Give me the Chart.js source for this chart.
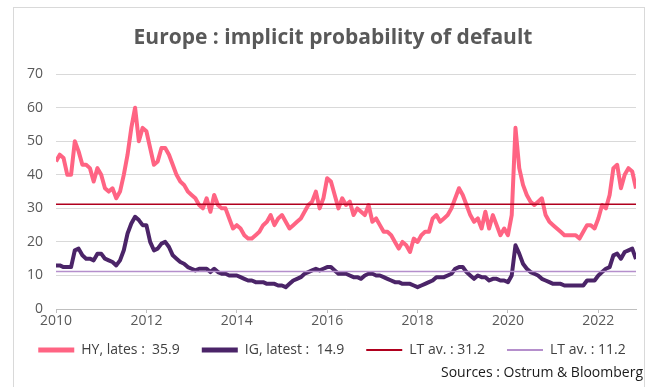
<!DOCTYPE html>
<html>
<head>
<meta charset="utf-8">
<script src="https://cdn.jsdelivr.net/npm/chart.js@4/dist/chart.umd.min.js"></script>
<style>
    html, body { margin: 0; padding: 0; background: #ffffff; }
    #wrap { position: relative; width: 656px; height: 387px; overflow: hidden; }
    #frame { position: absolute; left: 13px; top: 7px; width: 632px; height: 400px; border: 1px solid #d9d9d9; box-sizing: border-box; }
    #chart { position: absolute; left: 0; top: 0; }
    #source { position: absolute; right: 13px; top: 362px; font: 14px "Open Sans", sans-serif; color: #1a1a1a; white-space: pre; }
</style>
</head>
<body>
<div id="wrap">
    <div id="frame"></div>
    <canvas id="chart" width="656" height="387"></canvas>
    <div id="source">Sources : Ostrum &amp; Bloomberg</div>
</div>
<script>
// Monthly readings, Jan 2010 -> Nov 2022
const startYear = 2010;

const hyValues = [
    44, 46, 45, 40, 40, 50, 47, 43, 43, 42, 38, 42,   // 2010
    40, 36, 35, 36, 33, 35, 40, 46, 54, 60, 50, 54,   // 2011
    53, 48, 43, 44, 48, 48, 46, 43, 40, 38, 37, 35,   // 2012
    34, 33, 31, 30, 33, 29, 34, 31, 30, 30, 27, 24,   // 2013
    25, 24, 22, 21, 21, 22, 23, 25, 26, 28, 25, 27,   // 2014
    28, 26, 24, 25, 26, 27, 29, 31, 32, 35, 30, 33,   // 2015
    39, 38, 34, 30, 33, 31, 32, 28, 30, 29, 28, 31,   // 2016
    26, 27, 25, 23, 23, 22, 20, 18, 20, 19, 17, 21,   // 2017
    20, 22, 23, 23, 27, 28, 26, 27, 28, 30, 33, 36,   // 2018
    34, 31, 28, 26, 27, 24, 29, 24, 28, 25, 22, 24,   // 2019
    22, 28, 54, 42, 37, 34, 32, 31, 32, 33, 28, 26,   // 2020
    25, 24, 23, 22, 22, 22, 22, 21, 23, 25, 25, 24,   // 2021
    27, 31, 30, 34, 42, 43, 36, 40, 42, 41, 35.9      // 2022
];

const igValues = [
    13, 13, 12.5, 12.5, 12.5, 17.5, 18, 16, 15, 15, 14.5, 16.5,
    16.5, 15, 14.5, 14, 13, 14.5, 17.5, 22.5, 25.5, 27.5, 26.5, 25,
    25, 20, 17.5, 18, 19.5, 20, 18.5, 16, 15, 14, 13.5, 12.5,
    12, 11.5, 12, 12, 12, 11, 12, 11, 10.5, 10.5, 10, 10,
    10, 9.5, 9, 8.5, 8.5, 8, 8, 8, 7.5, 7.5, 7.5, 7,
    7, 6.5, 7.5, 8.5, 9, 9.5, 10.5, 11, 11.5, 12, 11.5, 12,
    12.5, 12.5, 11.5, 10.5, 10.5, 10.5, 10, 9.5, 9.5, 9, 10, 10.5,
    10.5, 10, 10, 9.5, 9, 8.5, 8, 8, 7.5, 7.5, 7.5, 7,
    6.5, 7, 7.5, 8, 8.5, 9.5, 9.5, 9.5, 10, 10.5, 12, 12.5,
    12.5, 11, 10, 9, 10, 9.5, 9.5, 8.5, 9, 9, 8.5, 8.5,
    8, 10, 19, 16.5, 13.5, 12, 11, 10.5, 10, 9, 8.5, 8,
    7.5, 7.5, 7.5, 7, 7, 7, 7, 7, 7, 8.5, 8.5, 8.5,
    10, 11, 12, 12.5, 16, 16.5, 15, 17, 17.5, 18, 14.9
];

const hyAverage = 31.2;
const igAverage = 11.2;

const yearTicks = [2010, 2012, 2014, 2016, 2018, 2020, 2022];
const seriesLabels = ["HY, lates :  35.9", "IG, latest :  14.9", "LT av. : 31.2", "LT av. : 11.2"];

const xEnd = startYear + (hyValues.length - 1) / 12;
const toPoints = (arr) => arr.map((v, i) => ({ x: startYear + i / 12, y: v }));
const flat = (v) => [{ x: startYear, y: v }, { x: xEnd, y: v }];

const tickFont = { family: "'Open Sans', sans-serif", size: 14 };

// nudge title and legend to where they sit in the original
const nudgeBoxes = {
    id: "nudgeBoxes",
    afterLayout(chart) {
        const t = chart.titleBlock;
        t.left += 15; t.right += 15;
        const lg = chart.legend;
        lg.left += 14; lg.right += 14;
        lg.top -= 10; lg.bottom -= 10;
    },
};

new Chart(document.getElementById("chart").getContext("2d"), {
    type: "line",
    data: {
        datasets: [
            {
                label: seriesLabels[0],
                data: toPoints(hyValues),
                borderColor: "#ff6483",
                borderWidth: 4,
                legendWidth: 5,
                order: 2,
            },
            {
                label: seriesLabels[1],
                data: toPoints(igValues),
                borderColor: "#4b2468",
                borderWidth: 4,
                legendWidth: 5,
                order: 2,
            },
            {
                label: seriesLabels[2],
                data: flat(hyAverage),
                borderColor: "#b0001e",
                borderWidth: 1.5,
                legendWidth: 2,
                order: 1,
            },
            {
                label: seriesLabels[3],
                data: flat(igAverage),
                borderColor: "#b58fcc",
                borderWidth: 1.5,
                legendWidth: 2,
                order: 1,
            },
        ],
    },
    plugins: [nudgeBoxes],
    options: {
        responsive: false,
        animation: false,
        events: [],
        elements: {
            point: { radius: 0 },
            line: { tension: 0, borderJoinStyle: "round" },
        },
        layout: { padding: { left: 0, right: 20, top: 20, bottom: 10 } },
        scales: {
            x: {
                type: "linear",
                min: startYear,
                max: xEnd,
                afterBuildTicks: (scale) => {
                    scale.ticks = yearTicks.map((v) => ({ value: v }));
                },
                afterFit: (scale) => { scale.height = 22; },
                ticks: {
                    color: "#595959",
                    font: tickFont,
                    padding: 0,
                    maxRotation: 0,
                    autoSkip: false,
                    callback: (v) => String(v),
                },
                grid: { drawOnChartArea: false, drawTicks: true, tickLength: 4, color: "#bfbfbf" },
                border: { display: true, color: "#bfbfbf", width: 1 },
            },
            y: {
                min: 0,
                max: 70,
                afterFit: (scale) => { scale.width = 56; },
                ticks: { stepSize: 10, color: "#595959", font: tickFont, padding: 13 },
                grid: { color: "#d9d9d9", drawTicks: false },
                border: { display: false },
            },
        },
        plugins: {
            tooltip: { enabled: false },
            title: {
                display: true,
                text: "Europe : implicit probability of default",
                color: "#595959",
                font: { family: "'Open Sans', sans-serif", size: 21, weight: "bold" },
                padding: { top: 5, bottom: 24 },
            },
            legend: {
                position: "bottom",
                labels: {
                    usePointStyle: true,
                    boxWidth: 36,
                    pointStyleWidth: 36,
                    boxHeight: 6,
                    padding: 22,
                    color: "#404040",
                    font: { family: "'Open Sans', sans-serif", size: 14 },
                    generateLabels: (chart) =>
                        chart.data.datasets.map((ds, i) => ({
                            text: ds.label,
                            datasetIndex: i,
                            pointStyle: "line",
                            strokeStyle: ds.borderColor,
                            fillStyle: ds.borderColor,
                            lineWidth: ds.legendWidth,
                            fontColor: "#404040",
                            hidden: false,
                        })),
                },
            },
        },
    },
});
</script>
</body>
</html>
